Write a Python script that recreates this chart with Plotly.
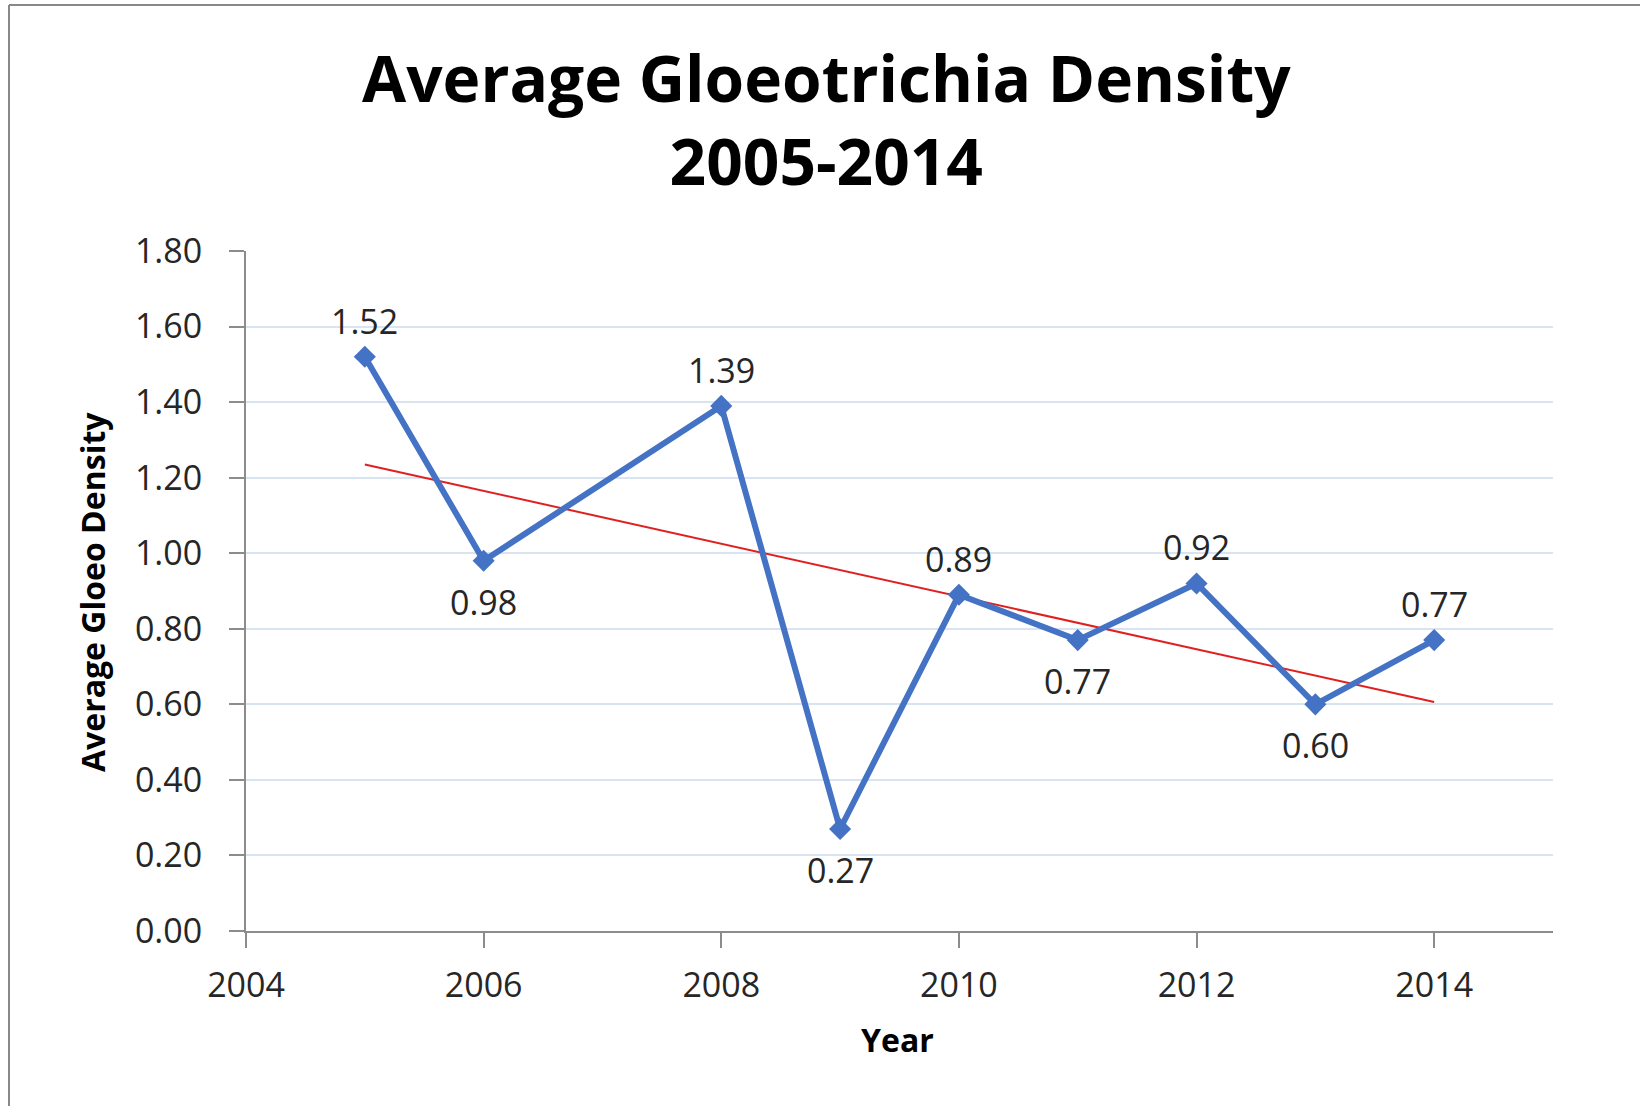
import numpy as np
import plotly.graph_objects as go

years = [2005, 2006, 2008, 2009, 2010, 2011, 2012, 2013, 2014]
density = [1.52, 0.98, 1.39, 0.27, 0.89, 0.77, 0.92, 0.60, 0.77]
label_above = [True, False, True, False, True, False, True, False, True]
y_ticks = [0.0, 0.2, 0.4, 0.6, 0.8, 1.0, 1.2, 1.4, 1.6, 1.8]
x_ticks = [2004, 2006, 2008, 2010, 2012, 2014]

W, H = 1640, 1106
L, R, T, B = 246, 87, 251, 175
pw, ph = W - L - R, H - T - B

TICK_FONT = dict(family="Open Sans", size=34, color="#262626")
BOLD_FONT = "Open Sans"

slope, intercept = np.polyfit(years, density, 1)
trend_x = [years[0], years[-1]]
trend_y = [slope * x + intercept for x in trend_x]

fig = go.Figure()
fig.add_trace(go.Scatter(
    x=trend_x, y=trend_y, mode="lines",
    line=dict(color="#E02020", width=2), hoverinfo="skip", showlegend=False))
fig.add_trace(go.Scatter(
    x=years, y=density, mode="lines+markers",
    line=dict(color="#4472C4", width=6),
    marker=dict(symbol="diamond", size=17, color="#4472C4"),
    showlegend=False))

def px_x(px):
    return (px - L) / pw

def px_y(py):
    return 1 - (py - T) / ph

fig.update_layout(
    width=W, height=H,
    margin=dict(l=L, r=R, t=T, b=B),
    paper_bgcolor="white", plot_bgcolor="white",
    xaxis=dict(range=[2004, 2015], tickvals=x_ticks, ticktext=[str(v) for v in x_ticks],
               showgrid=False, zeroline=False, showline=True, linecolor="#8C8C8C", linewidth=2,
               ticks="outside", ticklen=15, tickwidth=2, tickcolor="#8C8C8C",
               ticklabelstandoff=8, tickfont=TICK_FONT),
    yaxis=dict(range=[0, 1.8], tickvals=y_ticks, ticktext=[f"{v:.2f}" for v in y_ticks],
               showgrid=True, gridcolor="#D8E4F2", gridwidth=2, zeroline=False,
               showline=True, linecolor="#8C8C8C", linewidth=2,
               ticks="outside", ticklen=15, tickwidth=2, tickcolor="#8C8C8C",
               ticklabelstandoff=20, tickfont=TICK_FONT),
    font=dict(family="Open Sans", color="#000000"),
)

annotations = [
    dict(text="<b>Average Gloeotrichia Density<br>2005-2014</b>", x=px_x(826), y=px_y(119),
         xref="paper", yref="paper", showarrow=False, xanchor="center", yanchor="middle",
         font=dict(family=BOLD_FONT, size=64, color="#000000")),
    dict(text="<b>Average Gloeo Density</b>", x=px_x(92), y=px_y(592), textangle=-90,
         xref="paper", yref="paper", showarrow=False, xanchor="center", yanchor="middle",
         font=dict(family=BOLD_FONT, size=32, color="#000000")),
    dict(text="<b>Year</b>", x=px_x(897), y=px_y(1039),
         xref="paper", yref="paper", showarrow=False, xanchor="center", yanchor="middle",
         font=dict(family=BOLD_FONT, size=32, color="#000000")),
]
for x, y, above in zip(years, density, label_above):
    annotations.append(dict(
        text=f"{y:.2f}", x=x, y=y, xref="x", yref="y", showarrow=False,
        xanchor="center", yanchor="middle", yshift=36 if above else -41,
        font=TICK_FONT))
fig.update_layout(annotations=annotations)

fig.add_shape(type="line", xref="paper", yref="paper",
              x0=px_x(9), x1=px_x(9), y0=px_y(1110), y1=px_y(5),
              line=dict(color="#888888", width=2))
fig.add_shape(type="line", xref="paper", yref="paper",
              x0=px_x(9), x1=px_x(1645), y0=px_y(5), y1=px_y(5),
              line=dict(color="#888888", width=2))

fig.write_html("out.html", config={"displayModeBar": False},
               post_script="document.body.style.margin='0px';")
